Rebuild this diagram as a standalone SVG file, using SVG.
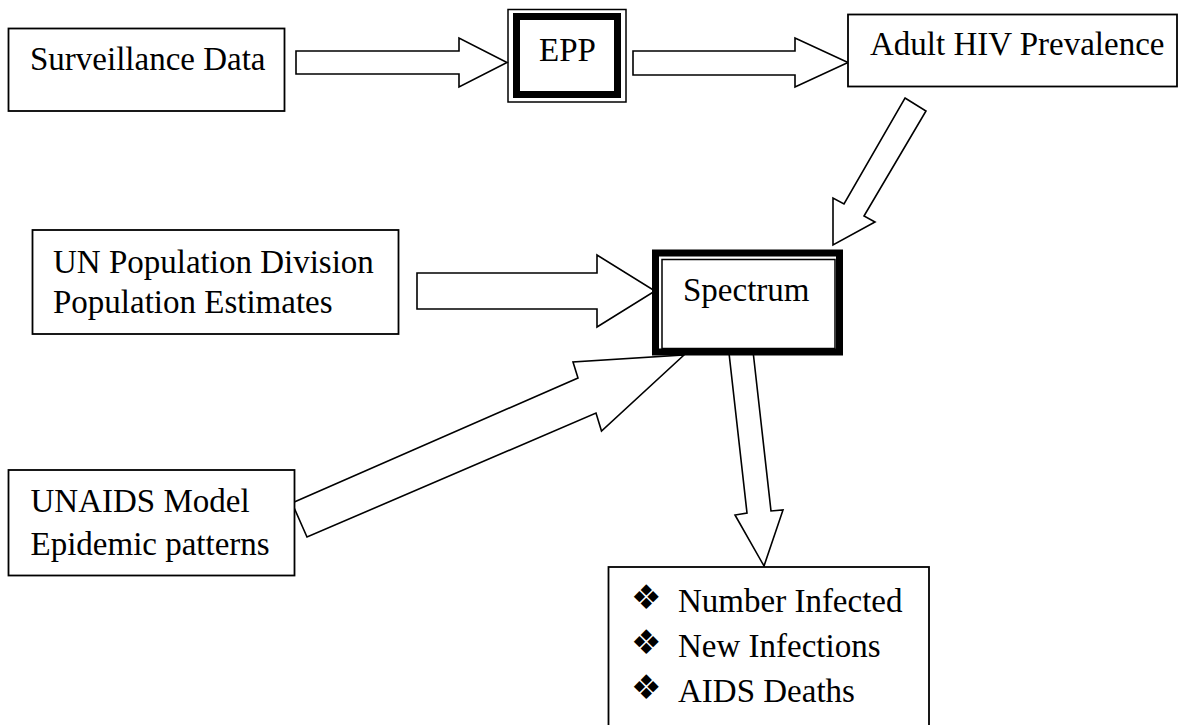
<svg xmlns="http://www.w3.org/2000/svg" width="1180" height="725" viewBox="0 0 1180 725">
<style>
.box{fill:#fff;stroke:#000;stroke-width:1.8}
.thin{fill:none;stroke:#000;stroke-width:1.5}
.thick{fill:#fff;stroke:#000;stroke-width:7}
.arr{fill:#fff;stroke:#000;stroke-width:1.6;stroke-linejoin:miter}
.t{font-family:'Liberation Serif','DejaVu Serif',serif;font-size:33px;fill:#000}
.b{font-family:'DejaVu Sans',sans-serif;font-size:34px;fill:#000}
</style>
<rect width="1180" height="725" fill="#fff"/>
<g id="connectors">
<polygon class="arr" points="296,51 459,51 459,38 507,62.5 459,87 459,74 296,74"/>
<polygon class="arr" points="633,51 795,51 795,38 848,62.5 795,87 795,75 633,75"/>
<polygon class="arr" points="905,98 926,111 864,216 875,222 833,245 833,198 844,204"/>
<polygon class="arr" points="417,273 597,273 597,255 655,291 597,327 597,309 417,309"/>
<polygon class="arr" points="292,503 578,378 573,362 684,355 601.5,431 596,413 307,537"/>
<polygon class="arr" points="729,353 753,351 771,511 783,510 764,566 735,515 747,513"/>
</g>
<g id="surveillance">
<rect class="box" x="8.5" y="28.5" width="276" height="82.5"/>
<text class="t" x="30" y="70">Surveillance Data</text>
</g>
<g id="epp">
<rect class="thin" x="508" y="9.5" width="118" height="92.5" fill="#fff"/>
<rect class="thick" x="516.5" y="16.5" width="101" height="78"/>
<text class="t" x="539" y="61">EPP</text>
</g>
<g id="adult-hiv">
<rect class="box" x="848" y="14.5" width="329" height="72"/>
<text class="t" x="870" y="55">Adult HIV Prevalence</text>
</g>
<g id="un-population">
<rect class="box" x="32.5" y="230" width="366" height="104"/>
<text class="t" x="53" y="272.5">UN Population Division</text>
<text class="t" x="53" y="313">Population Estimates</text>
</g>
<g id="spectrum">
<rect class="thick" x="655.5" y="253" width="184" height="99"/>
<rect class="thin" x="662" y="259.5" width="173" height="89"/>
<text class="t" x="683" y="301">Spectrum</text>
</g>
<g id="unaids">
<rect class="box" x="8.5" y="470" width="286" height="105.5"/>
<text class="t" x="30.5" y="511.5">UNAIDS Model</text>
<text class="t" x="30.5" y="555">Epidemic patterns</text>
</g>
<g id="outputs">
<rect class="box" x="608.5" y="567" width="320.5" height="170"/>
<text class="b" x="631" y="609">❖</text>
<text class="t" x="678" y="611.5">Number Infected</text>
<text class="b" x="631" y="654">❖</text>
<text class="t" x="678" y="656.5">New Infections</text>
<text class="b" x="631" y="699">❖</text>
<text class="t" x="678" y="701.5">AIDS Deaths</text>
</g>
</svg>
